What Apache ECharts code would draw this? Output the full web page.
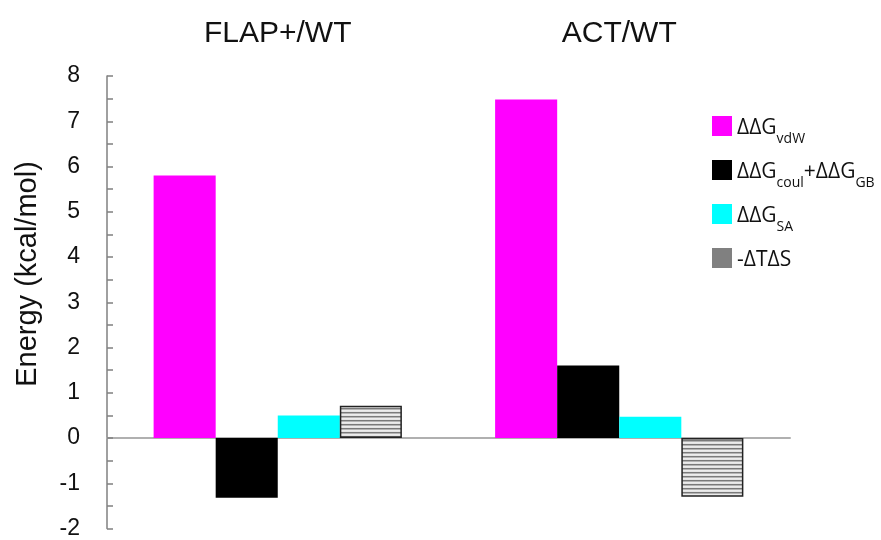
<!DOCTYPE html>
<html>
<head>
<meta charset="utf-8">
<script src="https://cdn.jsdelivr.net/npm/echarts@6/dist/echarts.min.js"></script>
<style>html,body{margin:0;padding:0;background:#fff;}#c{width:881px;height:540px;}</style>
</head>
<body>
<div id="c"></div>
<script>
const categories = ['FLAP+/WT', 'ACT/WT'];
const seriesNames = ['vdw', 'coulgb', 'sa', 'tds'];
const vdwValues = [5.8, 7.48];
const coulGbValues = [-1.32, 1.6];
const saValues = [0.5, 0.47];
const tdsValues = [0.71, -1.3];
const yTicks = { min: -2, max: 8, interval: 1 };

const legendLabels = {
  vdw: '{m|ΔΔG}{s|vdW}',
  coulgb: '{m|ΔΔG}{s|coul}{m|+ΔΔG}{s|GB}',
  sa: '{m|ΔΔG}{s|SA}',
  tds: '{m|-ΔTΔS}'
};

// hatch pattern
const pc = document.createElement('canvas');
pc.width = 4; pc.height = 4;
const pctx = pc.getContext('2d');
const rows = ['#7a7a7a', '#b4b4b4', '#ececec', '#e4e4e4'];
rows.forEach((c, i) => { pctx.fillStyle = c; pctx.fillRect(0, i, 4, 1); });

const chart = echarts.init(document.getElementById('c'), null, { renderer: 'canvas' });
const FONT = 'Liberation Sans, Arial, sans-serif';
const LFONT = 'Open Sans, sans-serif';

chart.setOption({
  animation: false,
  backgroundColor: '#fff',
  grid: { left: 107, right: 91, top: 76, bottom: 9, containLabel: false },
  legend: {
    orient: 'vertical',
    left: 707,
    top: 111,
    itemWidth: 20,
    itemHeight: 20,
    itemGap: 14,
    icon: 'rect',
    selectedMode: false,
    data: [
      { name: 'vdw' },
      { name: 'coulgb' },
      { name: 'sa' },
      { name: 'tds', itemStyle: { color: '#808080', borderWidth: 0 } }
    ],
    formatter: n => legendLabels[n],
    textStyle: {
      rich: {
        m: { fontFamily: LFONT, fontSize: 21, color: '#111', lineHeight: 26, verticalAlign: 'bottom' },
        s: { fontFamily: LFONT, fontSize: 14, color: '#111', lineHeight: 26, verticalAlign: 'bottom', padding: [0, 0, -7, 0] }
      }
    }
  },
  xAxis: [
    {
      type: 'category',
      data: categories,
      axisLine: { onZero: true, lineStyle: { color: '#b0b0b0', width: 2 } },
      axisTick: { show: false },
      axisLabel: { show: false },
      splitLine: { show: false }
    },
    {
      type: 'category',
      data: categories,
      position: 'top',
      axisLine: { show: false, onZero: false },
      axisTick: { show: false },
      axisLabel: { show: true, margin: 27, fontFamily: FONT, fontSize: 30, color: '#111' },
      splitLine: { show: false }
    }
  ],
  yAxis: {
    type: 'value',
    min: yTicks.min,
    max: yTicks.max,
    interval: yTicks.interval,
    axisLine: { show: true, onZero: false, lineStyle: { color: '#808080', width: 1.5 } },
    axisTick: { show: true, inside: true, length: 6, lineStyle: { color: '#808080', width: 1.5 } },
    minorTick: { show: true, splitNumber: 2, length: 6, lineStyle: { color: '#808080', width: 1.5 } },
    axisLabel: { margin: 27, fontFamily: FONT, fontSize: 23, color: '#111' },
    splitLine: { show: false }
  },
  graphic: [
    {
      type: 'text',
      x: 28, y: 274,
      rotation: Math.PI / 2,
      style: { text: 'Energy (kcal/mol)', font: '29px ' + FONT, fill: '#111', align: 'center', verticalAlign: 'middle' }
    }
  ],
  series: [
    { name: 'vdw', type: 'bar', data: vdwValues, barGap: '0%', barCategoryGap: '27.3%', itemStyle: { color: '#ff00ff' } },
    { name: 'coulgb', type: 'bar', data: coulGbValues, itemStyle: { color: '#000000' } },
    { name: 'sa', type: 'bar', data: saValues, itemStyle: { color: '#00ffff' } },
    { name: 'tds', type: 'bar', data: tdsValues, itemStyle: { color: { image: pc, repeat: 'repeat' }, borderColor: '#222', borderWidth: 1.5 } }
  ]
});
</script>
</body>
</html>
